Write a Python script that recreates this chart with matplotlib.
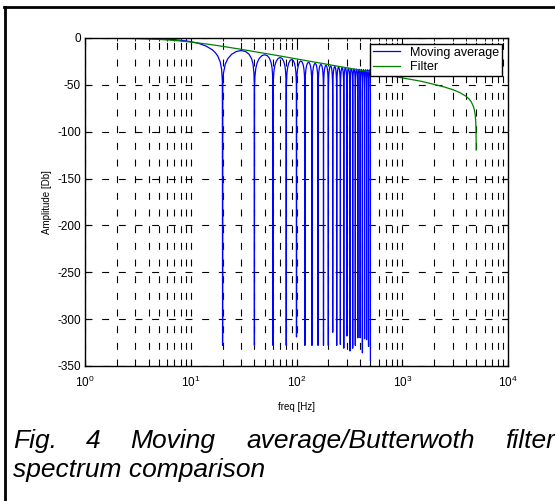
import numpy as np
import matplotlib
matplotlib.use('Agg')
import matplotlib.pyplot as plt
from matplotlib.lines import Line2D

plt.rcParams['font.family'] = ['Liberation Sans', 'DejaVu Sans']
plt.rcParams['mathtext.fontset'] = 'custom'
plt.rcParams['mathtext.rm'] = 'Liberation Sans'
plt.rcParams['mathtext.it'] = 'Liberation Sans:italic'
plt.rcParams['lines.scale_dashes'] = False
plt.rcParams['axes.unicode_minus'] = False

# moving average: main lobe, then nulls and side lobe peaks
ma_main_freq = [1, 2, 3, 4, 5, 6, 7, 8, 9, 10, 12, 14, 16, 17, 18, 19, 19.6, 19.9]
ma_main_db = [0, -0.1, -0.3, -0.5, -0.9, -1.3, -1.8, -2.4, -3.1, -3.9,
              -5.9, -8.7, -12.6, -15.4, -19.2, -25.6, -33.8, -46.0]
null_freq = [20, 40, 60, 80, 100, 120, 140, 160, 180, 200, 220, 240, 260,
             280, 300, 320, 340, 360, 380, 400, 420, 440, 460, 480, 500]
null_db = [-328, -328, -328, -328, -319, -328, -328, -328, -328, -328, -314,
           -328, -327, -331, -318, -334, -331, -328, -320, -320, -336, -321,
           -322, -329, -344]
peak_db = [-13.4, -17.9, -20.8, -22.9, -24.6, -25.9, -27.1, -28.1, -29.0,
           -29.7, -30.4, -31.0, -31.5, -31.9, -32.3, -32.7, -33.0, -33.2,
           -33.4, -33.6, -33.8, -33.9, -33.9, -34.0]
# shape of one side lobe (position inside the lobe, dB below its peak)
lobe_pos = [0.005, 0.02, 0.06, 0.12, 0.22, 0.35, 0.5, 0.65, 0.78, 0.88, 0.94, 0.98, 0.995]
lobe_rel = [-36.1, -24.0, -14.5, -8.7, -3.9, -1.0, 0, -1.0, -3.9, -8.7, -14.5, -24.0, -36.1]

# butterworth filter response
filt_freq = [1, 2, 3, 5, 7, 10, 15, 20, 30, 50, 70, 100, 200, 300, 500, 700,
             1000, 1500, 2000, 2500, 3000, 3500, 4000, 4300, 4500, 4700, 4800,
             4900, 4950, 4980, 4995, 4999]
filt_db = [-0.07, -0.28, -0.6, -1.5, -2.6, -4.3, -6.8, -8.9, -12.1, -16.4,
           -19.2, -22.3, -28.3, -31.8, -36.3, -39.2, -42.6, -46.1, -49.5,
           -52.3, -55.1, -58.2, -62.1, -65.3, -68.3, -72.8, -76.3, -82.4,
           -88.4, -96.4, -108.4, -119.5]

ma_f = list(ma_main_freq)
ma_d = list(ma_main_db)
for k in range(len(peak_db)):
    ma_f.append(null_freq[k])
    ma_d.append(null_db[k])
    w = null_freq[k + 1] - null_freq[k]
    for p, r in zip(lobe_pos, lobe_rel):
        ma_f.append(null_freq[k] + w * p)
        ma_d.append(peak_db[k] + r)
ma_f.append(null_freq[-1])
ma_d.append(null_db[-1])

fig = plt.figure(figsize=(5.55, 5.01), dpi=100)
ax = fig.add_axes([85 / 555, 1 - 366 / 501, 423 / 555, 328 / 501])

ax.semilogx(ma_f, ma_d, color='#0000ff', lw=0.9, label='Moving average')
ax.semilogx(filt_freq, filt_db, color='#008000', lw=0.9, label='Filter')

ax.set_xlim(1, 1e4)
ax.set_ylim(-350, 0)
ax.set_yticks(np.arange(-350, 1, 50))
ax.grid(True, which='major', axis='both', color='black', lw=0.8, linestyle=(0, (5, 7)))
ax.grid(True, which='minor', axis='x', color='black', lw=0.8, linestyle=(0, (5, 7)))
ax.tick_params(which='both', direction='in', top=True, right=True, labelsize=8.5)
ax.tick_params(axis='y', pad=3)
ax.tick_params(axis='x', which='both', pad=6)
ax.tick_params(which='major', length=4)
ax.tick_params(which='minor', length=2.5)
for s in ax.spines.values():
    s.set_linewidth(1.0)

ax.set_xlabel('freq [Hz]', fontsize=7, labelpad=9)
ax.set_ylabel('Amplitude [Db]', fontsize=7, labelpad=4)

leg = ax.legend(loc='upper right', fontsize=9, fancybox=False, framealpha=1,
                edgecolor='black', borderaxespad=0.45, handlelength=2.2,
                borderpad=0.25, labelspacing=0.2, handletextpad=0.8)
leg.get_frame().set_linewidth(1.0)

# page borders (top and left)
fig.add_artist(Line2D([4 / 555, 1], [1 - 6.5 / 501, 1 - 6.5 / 501], color='black', lw=2))
fig.add_artist(Line2D([4.5 / 555, 4.5 / 555], [0, 1 - 6.5 / 501], color='black', lw=2))

# caption (justified first line, one word at a time)
cap_y1 = 1 - 441 / 501
cap_y2 = 1 - 470 / 501
for word, x in [('Fig.', 13), ('4', 86), ('Moving', 130),
                ('average/Butterwoth', 246), ('filter', 505)]:
    fig.text(x / 555, cap_y1, word, fontsize=19, style='italic', va='center')
fig.text(13 / 555, cap_y2, 'spectrum comparison', fontsize=19, style='italic', va='center')

plt.savefig('out.png', dpi=100)
